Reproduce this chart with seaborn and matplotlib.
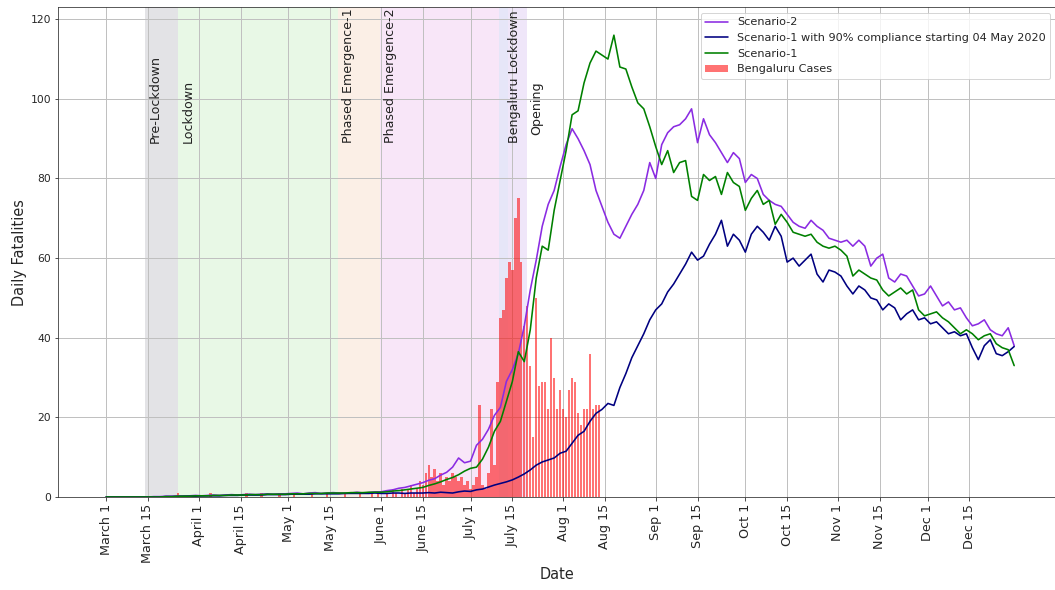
import numpy as np
import matplotlib
matplotlib.use("Agg")
import matplotlib.pyplot as plt
import seaborn as sns

# day 0 = 1 March 2020; lines read every 2 days, bars read daily
line_days = np.arange(0, 305, 2)

scenario_2 = [
    0, 0, 0, 0, 0, 0, 0, 0, 0.1, 0.1,
    0.2, 0.2, 0.3, 0.2, 0.3, 0.4, 0.3, 0.4, 0.5, 0.4,
    0.5, 0.6, 0.5, 0.6, 0.7, 0.6, 0.7, 0.8, 0.7, 0.8,
    0.8, 0.9, 1.0, 0.8, 1.0, 1.1, 0.9, 1.0, 1.1, 1.0, 0.9, 1.0, 1.2, 1.0, 1.1, 1.3,
    1.3, 1.6, 1.8, 2.2, 2.4, 2.8, 3.2,
    3.6, 4.2, 4.6, 5.5, 6.2, 7.5, 9.8, 8.6, 9.0, 13.0, 14.5, 17.0,
    20.5, 22.5, 29.0, 32.0, 36.0, 43.0, 52.0, 59.5, 68.0, 73.5, 77.0,
    83.0, 88.5, 92.5, 90.0, 87.0, 83.5, 77.0, 73.0, 69.0, 66.0,
    65.0, 68.0, 71.0, 73.5, 77.0, 84.0, 80.0, 88.5, 91.5, 93.0,
    93.5, 95.0, 97.5, 89.0, 95.0, 91.0, 89.0, 86.5, 84.0, 86.5,
    85.0, 79.0, 81.0, 80.0, 76.0, 74.5, 73.5, 73.0, 71.0, 69.0,
    68.0, 67.5, 69.5, 68.0, 67.0, 65.0, 64.5, 64.0, 64.5, 63.0,
    64.5, 63.0, 58.0, 60.0, 61.0, 55.0, 54.0, 56.0, 55.5, 53.0,
    50.5, 51.0, 53.0, 50.5, 48.0, 49.0, 47.0, 47.5, 45.0, 43.0,
    43.5, 44.5, 42.0, 41.0, 40.5, 42.5, 38.0,
]

scenario_1_90 = [
    0, 0, 0, 0, 0, 0, 0, 0, 0, 0,
    0.1, 0.1, 0.1, 0.2, 0.2, 0.2, 0.3, 0.3, 0.3, 0.3,
    0.4, 0.4, 0.4, 0.5, 0.5, 0.5, 0.5, 0.6, 0.6, 0.6,
    0.6, 0.7, 0.7, 0.7, 0.7, 0.8, 0.8, 0.8, 0.8, 0.8, 0.9, 0.9, 0.9, 0.9, 0.9, 1.0,
    0.9, 0.9, 1.0, 1.0, 0.9, 1.0, 1.0,
    1.0, 1.1, 1.0, 1.2, 1.1, 1.0, 1.3, 1.5, 1.4, 1.8, 2.0, 2.5,
    3.0, 3.4, 3.8, 4.3, 5.0, 5.8, 6.8, 8.0, 8.8, 9.3, 9.8,
    11.0, 11.5, 13.5, 15.5, 16.5, 19.0, 21.0, 22.0, 23.5, 23.0,
    27.5, 31.0, 35.0, 38.0, 41.0, 44.5, 47.0, 48.5, 51.5, 53.5,
    56.0, 58.5, 61.5, 59.5, 60.5, 63.5, 66.0, 69.5, 63.0, 66.0,
    64.5, 61.5, 66.0, 68.0, 66.5, 64.5, 68.0, 65.5, 59.0, 60.0,
    58.0, 59.5, 61.0, 56.0, 54.0, 57.0, 56.5, 55.5, 53.0, 51.0,
    53.0, 52.0, 50.0, 49.5, 47.0, 48.5, 47.5, 44.5, 46.0, 47.0,
    44.5, 45.0, 43.5, 44.0, 42.5, 41.0, 41.5, 40.5, 41.0, 37.5,
    34.5, 38.0, 39.5, 36.0, 35.5, 36.5, 37.8,
]

scenario_1 = [
    0, 0, 0, 0, 0, 0, 0, 0, 0, 0,
    0.1, 0.1, 0.2, 0.2, 0.2, 0.3, 0.3, 0.3, 0.4, 0.4,
    0.4, 0.5, 0.5, 0.5, 0.6, 0.6, 0.6, 0.7, 0.7, 0.7,
    0.7, 0.8, 0.8, 0.8, 0.9, 0.9, 0.9, 1.0, 1.0, 1.0, 1.0, 1.1, 1.1, 1.1, 1.2, 1.2,
    1.2, 1.3, 1.5, 1.6, 1.8, 2.0, 2.2,
    2.4, 2.9, 3.3, 3.8, 4.4, 4.9, 5.6, 6.5, 7.2, 7.5, 9.5, 12.5,
    16.5, 19.0, 24.0, 29.0, 36.5, 34.0, 42.0, 55.0, 63.0, 62.0, 72.0,
    79.5, 87.0, 96.0, 97.0, 104.0, 109.0, 112.0, 111.0, 110.0, 116.0,
    108.0, 107.5, 103.0, 99.0, 97.5, 93.0, 88.0, 83.5, 87.0, 81.5,
    84.0, 84.5, 75.5, 74.5, 81.0, 79.5, 80.5, 76.0, 81.5, 79.0,
    78.0, 72.0, 75.0, 77.0, 73.5, 74.5, 68.5, 71.0, 69.0, 66.5,
    66.0, 65.5, 66.0, 64.0, 63.0, 62.5, 63.0, 62.0, 60.5, 55.5,
    57.0, 56.0, 55.0, 54.5, 52.0, 50.5, 51.5, 52.5, 51.0, 52.0,
    47.0, 45.5, 46.0, 46.5, 45.0, 44.0, 42.5, 41.0, 42.0, 41.0,
    39.5, 40.5, 41.0, 38.5, 37.5, 37.0, 33.0,
]

case_days = np.arange(0, 166)
bengaluru_cases = [
    0, 0, 0, 0, 0, 0, 0, 0, 0, 0,
    0, 0, 0, 0, 0, 0, 0, 0, 0, 0,
    0, 0, 0, 0, 1, 0, 0, 0, 0, 0,
    0, 0, 0, 0, 0, 1, 0, 0, 0, 0,
    0, 0, 0, 0, 0, 0, 0, 1, 0, 0,
    0, 0, 1, 0, 0, 0, 0, 0, 1, 0,
    0, 0, 0, 1, 0, 0, 0, 0, 0, 1,
    0, 0, 0, 0, 1, 0, 0, 0, 0, 0,
    1, 0, 0, 0, 0, 1, 0, 0, 0, 1,
    0, 1, 0, 0, 1, 0, 2, 1, 0, 2,
    1, 2, 3, 1, 2, 4, 3, 6, 8, 5,
    7, 4, 6, 3, 5, 4, 6, 5, 4, 5,
    3, 4, 2, 3, 5, 23, 3, 2, 6, 22,
    8, 29, 45, 47, 55, 59, 57, 70, 75, 59,
    43, 48, 33, 15, 50, 28, 29, 29, 22, 40,
    30, 22, 27, 22, 20, 27, 30, 29, 21, 18,
    22, 22, 36, 22, 23, 23,
]

tick_days = [0, 14, 31, 45, 61, 75, 92, 106, 122, 136, 153, 167, 184, 198,
             214, 228, 245, 259, 275, 289]
tick_labels = ["March 1", "March 15", "April 1", "April 15", "May 1", "May 15",
               "June 1", "June 15", "July 1", "July 15", "Aug 1", "Aug 15",
               "Sep 1", "Sep 15", "Oct 1", "Oct 15", "Nov 1", "Nov 15",
               "Dec 1", "Dec 15"]

phase_names = ["Pre-Lockdown", "Lockdown", "Phased Emergence-1",
               "Phased Emergence-2", "Bengaluru Lockdown", "Opening"]
phase_start = [13, 24, 77.7, 91.7, 131.7, 134.4]
phase_end = [24, 77.7, 91.7, 131.7, 134.4, 141]
phase_colors = ["#e3e3e6", "#e8f8e6", "#fbefe6", "#f8e6f8", "#e6e6f8", "#efe6f9"]
label_x = [14.4, 25.4, 79.0, 93.1, 134.6, 142.0]
label_y = [89, 89, 89, 89, 89, 91]

sns.set_style("ticks")
plt.rcParams["font.family"] = ["DejaVu Sans"]

fig = plt.figure(figsize=(1055 / 72, 590 / 72), dpi=72)
ax = fig.add_axes([58.3 / 1055, 93 / 590, (1056 - 58.3) / 1055, 489.7 / 590])

for s, e, c in zip(phase_start, phase_end, phase_colors):
    ax.axvspan(s, e, color=c, lw=0, zorder=0.5)
for name, x, y in zip(phase_names, label_x, label_y):
    ax.text(x, y, name, rotation=90, ha="left", va="bottom", fontsize=12.6,
            color="#222222")

sns.lineplot(x=line_days, y=scenario_2, color="#8a2be2", lw=1.6,
             label="Scenario-2", ax=ax)
sns.lineplot(x=line_days, y=scenario_1_90, color="#000080", lw=1.6,
             label="Scenario-1 with 90% compliance starting 04 May 2020", ax=ax)
sns.lineplot(x=line_days, y=scenario_1, color="#008000", lw=1.6,
             label="Scenario-1", ax=ax)
ax.bar(case_days, bengaluru_cases, width=0.8, color="red", alpha=0.55,
       lw=0, label="Bengaluru Cases")

ax.grid(True, color="#c0c0c0", lw=1)
ax.set_xlim(-16, 318)
ax.set_ylim(0, 123)
ax.set_yticks([0, 20, 40, 60, 80, 100, 120])
ax.set_xticks(tick_days)
ax.set_xticklabels(tick_labels, rotation=90, fontsize=12.8)
ax.tick_params(axis="y", labelsize=10.8)
ax.set_xlabel("Date", fontsize=14.5)
ax.set_ylabel("Daily Fatalities", fontsize=14.5)
for sp in ax.spines.values():
    sp.set_color("#333333")
ax.legend(loc="upper right", fontsize=11.3)

fig.savefig("out.png", dpi=72)
